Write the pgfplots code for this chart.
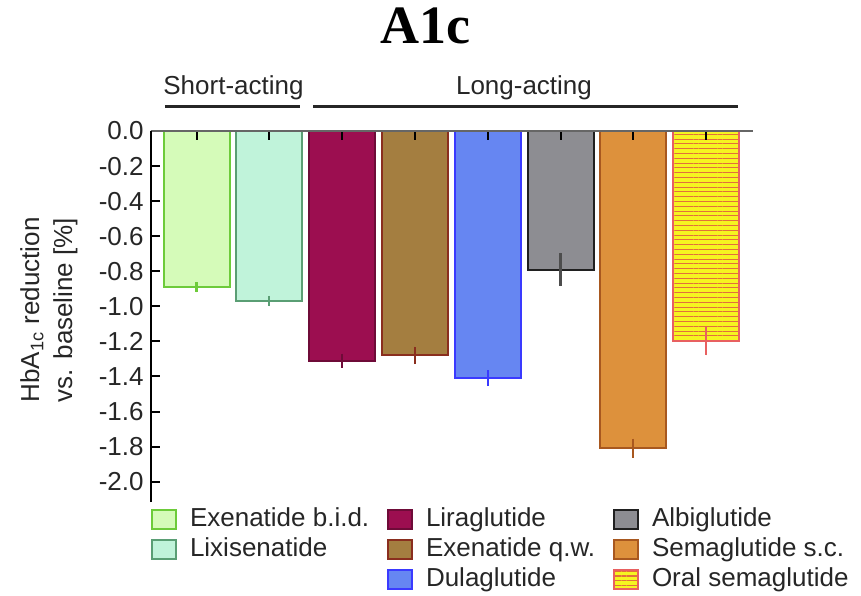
\documentclass[border=0pt]{standalone}
\usepackage{fontspec}
\setmainfont{Liberation Sans}
\newfontfamily\titlefont{Liberation Serif}
\usepackage{pgfplots}
\pgfplotsset{compat=1.18}
\usetikzlibrary{patterns.meta}

\definecolor{exbF}{HTML}{D5FBB9}\definecolor{exbD}{HTML}{6DCB3A}
\definecolor{lixF}{HTML}{C0F3DA}\definecolor{lixD}{HTML}{5A9E74}
\definecolor{liraF}{HTML}{9C0E50}\definecolor{liraD}{HTML}{6E0B38}
\definecolor{exqF}{HTML}{A47E40}\definecolor{exqD}{HTML}{8A2E1E}
\definecolor{dulaF}{HTML}{6686F2}\definecolor{dulaD}{HTML}{3A3AFF}
\definecolor{albiF}{HTML}{8D8D92}\definecolor{albiD}{HTML}{202020}
\definecolor{semaF}{HTML}{DD913C}\definecolor{semaD}{HTML}{A8581F}
\definecolor{oralF}{HTML}{F6F420}\definecolor{oralD}{HTML}{E86060}
\definecolor{oralS}{HTML}{E2703A}

\newcommand\lfont{\fontsize{13}{15}\selectfont}
\newcommand\lA[1]{\makebox[105pt][l]{\hspace{6.5pt}#1}}
\newcommand\lB[1]{\makebox[100pt][l]{\hspace{6.5pt}#1}}
\newcommand\lC[1]{\hspace{6.5pt}#1}

\pgfplotsset{
  mybar/.style n args={3}{ybar, bar width=33pt, bar shift=0pt, forget plot,
    fill=#1, draw=#2, line width=1pt,
    error bars/.cd, y dir=both, y explicit, error mark=none,
    error bar style={line width=1.1pt, color=#3}},
}

\begin{document}
\begin{tikzpicture}
\useasboundingbox (-75.35pt,-46.5pt) rectangle (355.15pt,251pt);
\begin{axis}[
  scale only axis, width=301pt, height=185.5pt,
  xmin=-0.63, xmax=7.64, ymin=-2.116, ymax=0,
  axis on top,
  axis x line*=top, axis y line*=left,
  x axis line style={draw=black!60, line width=1.2pt},
  y axis line style={draw=black, line width=1pt},
  xtick={0,1,2,3,4,5,6,7}, xticklabels={},
  ytick={-2,-1.8,-1.6,-1.4,-1.2,-1,-0.8,-0.6,-0.4,-0.2,0},
  tick align=inside, major tick length=4.5pt,
  tick style={black, line width=1pt},
  yticklabel style={font=\lfont, text=black!85, /pgf/number format/.cd, fixed, fixed zerofill, precision=1, assume math mode=true},
  clip=false,
  ylabel={HbA\textsubscript{1c} reduction\\vs. baseline [\%]},
  ylabel style={at={(axis description cs:-0.169,0.5175)}, anchor=center, align=center, text=black!85, font=\fontsize{13}{16.5}\selectfont},
  title={A1c},
  title style={at={(axis description cs:0.457,1)}, anchor=base, yshift=38pt, font=\titlefont\bfseries\fontsize{27}{30}\selectfont},
  legend columns=3,
  legend cell align=left,
  legend style={at={(axis description cs:0.0005,-0.0135)}, anchor=north west, draw=none, fill=none,
    inner sep=0pt, outer sep=0pt, column sep=0pt, row sep=3pt, font=\lfont, text=black!85,
    nodes={inner sep=0pt, text height=9.5pt, text depth=2.5pt}},
  legend image code/.code={\draw[#1, line width=1pt] (0pt,-4.75pt) rectangle (12pt,4.75pt);},
]
\addplot[mybar={exbF}{exbD}{exbD}] coordinates {(0,-0.89) +- (0,0.03)};
\addplot[mybar={lixF}{lixD}{lixD}] coordinates {(1,-0.97) +- (0,0.03)};
\addplot[mybar={liraF}{liraD}{liraD}] coordinates {(2,-1.31) +- (0,0.04)};
\addplot[mybar={exqF}{exqD}{exqD}] coordinates {(3,-1.28) +- (0,0.05)};
\addplot[mybar={dulaF}{dulaD}{dulaD}] coordinates {(4,-1.41) +- (0,0.045)};
\addplot[mybar={albiF}{albiD}{albiD!80}] coordinates {(5,-0.79) +- (0,0.095)};
\addplot[mybar={semaF}{semaD}{semaD}] coordinates {(6,-1.81) +- (0,0.055)};
\addplot[postaction={pattern={Lines[angle=0,distance=2.4pt,line width=0.5pt]}, pattern color=oralS}, mybar={oralF}{oralD}{oralD}] coordinates {(7,-1.20) +- (0,0.08)};

\addlegendimage{fill=exbF, draw=exbD}\addlegendentry{\lA{Exenatide b.i.d.}}
\addlegendimage{fill=liraF, draw=liraD}\addlegendentry{\lB{Liraglutide}}
\addlegendimage{fill=albiF, draw=albiD}\addlegendentry{\lC{Albiglutide}}
\addlegendimage{fill=lixF, draw=lixD}\addlegendentry{\lA{Lixisenatide}}
\addlegendimage{fill=exqF, draw=exqD}\addlegendentry{\lB{Exenatide q.w.}}
\addlegendimage{fill=semaF, draw=semaD}\addlegendentry{\lC{Semaglutide s.c.}}
\addlegendimage{empty legend}\addlegendentry{}
\addlegendimage{fill=dulaF, draw=dulaD}\addlegendentry{\lB{Dulaglutide}}
\addlegendimage{fill=oralF, draw=oralD, postaction={pattern={Lines[angle=0,distance=2.4pt,line width=0.7pt]}, pattern color=oralS}}\addlegendentry{\lC{Oral semaglutide}}

\draw[line width=1.5pt, black!85] ([yshift=12.5pt]axis cs:-0.434,0) -- ([yshift=12.5pt]axis cs:1.421,0);
\draw[line width=1.5pt, black!85] ([yshift=12.5pt]axis cs:1.60,0) -- ([yshift=12.5pt]axis cs:7.438,0);
\node[anchor=base, font=\lfont, text=black!85] at ([yshift=18.3pt]axis cs:0.507,0) {Short-acting};
\node[anchor=base, font=\lfont, text=black!85] at ([yshift=18.3pt]axis cs:4.498,0) {Long-acting};
\end{axis}
\end{tikzpicture}
\end{document}
